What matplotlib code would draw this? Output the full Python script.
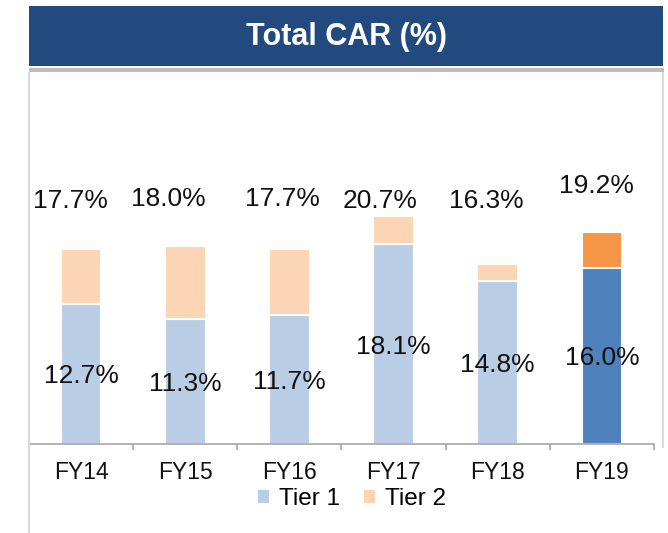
#! /usr/bin/env python3

import matplotlib
matplotlib.use('Agg')
import matplotlib.pyplot as plt
from matplotlib.patches import Rectangle, Patch
from matplotlib.lines import Line2D

plt.rcParams['font.family'] = ['Liberation Sans', 'DejaVu Sans']

# data
years = ['FY14', 'FY15', 'FY16', 'FY17', 'FY18', 'FY19']
tier1 = [12.7, 11.3, 11.7, 18.1, 14.8, 16.0]
tier2 = [5.0, 6.7, 6.0, 2.6, 1.5, 3.2]
total = [17.7, 18.0, 17.7, 20.7, 16.3, 19.2]

t1_color = ['#B9CDE5'] * 5 + ['#4F81BD']
t2_color = ['#FCD5B5'] * 5 + ['#F79646']

# label layout (hand placed in the original)
total_dx = [-0.10, -0.16, -0.07, -0.13, -0.11, -0.05]
total_y = [21.4, 21.6, 21.6, 21.4, 21.4, 22.8]

W, H = 668, 533
fig = plt.figure(figsize=(W / 100, H / 100), dpi=100)


def fx(px):
    return px / W


def fy(py):
    return 1 - py / H


# title banner with shadow
fig.patches.append(Rectangle((fx(29), fy(72)), fx(635), 8 / H, transform=fig.transFigure,
                             facecolor='#BDBDBD', edgecolor='none', zorder=0))
fig.patches.append(Rectangle((fx(27), fy(68)), fx(638), 64 / H, transform=fig.transFigure,
                             facecolor='white', edgecolor='none', zorder=1))
fig.patches.append(Rectangle((fx(29), fy(66)), fx(634), 60 / H, transform=fig.transFigure,
                             facecolor='#224A7E', edgecolor='none', zorder=2))
fig.text(fx(346), fy(37), 'Total CAR (%)', color='white', fontsize=22,
         fontweight='bold', ha='center', va='center', zorder=3)

# panel borders
fig.lines.append(Line2D([fx(28.5), fx(28.5)], [fy(73), fy(533)], transform=fig.transFigure,
                        color='#D9D9D9', lw=1.5))
fig.lines.append(Line2D([fx(663), fx(663)], [fy(73), fy(447)], transform=fig.transFigure,
                        color='#D9D9D9', lw=1.5))

ax = fig.add_axes([fx(29), fy(444), fx(625), 344 / H])
x = range(len(years))
ax.bar(x, tier1, width=0.39, color=t1_color, edgecolor='white', linewidth=1.5, zorder=2)
ax.bar(x, tier2, width=0.39, bottom=tier1, color=t2_color, edgecolor='white',
       linewidth=1.5, zorder=2)

for i in x:
    ax.text(i + total_dx[i], total_y[i], '{:.1f}%'.format(total[i]), ha='center',
            va='baseline', fontsize=19, color='#111111')
    ax.text(i, tier1[i] / 2, '{:.1f}%'.format(tier1[i]), ha='center',
            va='center_baseline', fontsize=19, color='#111111')

ax.set_xlim(-0.5, 5.5)
ax.set_ylim(0, 31.2)
ax.set_yticks([])
ax.set_xticks(list(x))
ax.set_xticklabels(years, fontsize=16.5, color='#111111')
ax.set_xticks([i - 0.5 for i in range(7)], minor=True)
ax.tick_params(axis='x', which='major', length=0, pad=12.5)
ax.tick_params(axis='x', which='minor', length=4, color='#A6A6A6', width=1.2)
for k, v in ax.spines.items():
    v.set_visible(False)
ax.spines['bottom'].set_visible(True)
ax.spines['bottom'].set_color('#A6A6A6')
ax.spines['bottom'].set_linewidth(1.2)
ax.patch.set_visible(False)

handles = [Patch(facecolor='#B9CDE5', edgecolor='none', label='Tier 1'),
           Patch(facecolor='#FCD5B5', edgecolor='none', label='Tier 2')]
fig.legend(handles=handles, loc='center', bbox_to_anchor=(fx(352), fy(499)), ncol=2,
           frameon=False, fontsize=17.5, handlelength=0.45, handleheight=0.45,
           handletextpad=0.4, columnspacing=1.0, borderpad=0)

fig.savefig('out.png', dpi=100)
